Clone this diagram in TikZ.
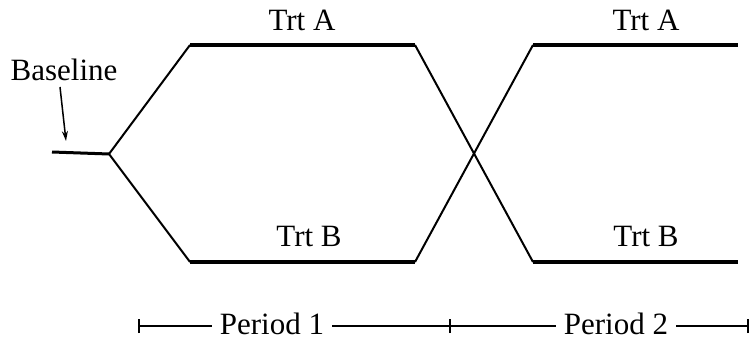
\documentclass[tikz,border=0pt]{standalone}
\usepackage{fontspec}
\setmainfont{Liberation Serif}
\usetikzlibrary{arrows.meta}
\begin{document}
\begin{tikzpicture}[x=1pt,y=-1pt,
  thin line/.style={line width=2pt},
  thick line/.style={line width=4pt},
  lbl/.style={font=\fontsize{31}{36}\selectfont, inner sep=1pt},
  tick/.style={line width=2.5pt}]
\useasboundingbox (0,0) rectangle (749,342);
% key points
\coordinate (b0) at (52,152);
\coordinate (j) at (109,154);
\coordinate (a1) at (190,45);
\coordinate (a2) at (415,45);
\coordinate (b1) at (190,262);
\coordinate (b2) at (415,262);
\coordinate (c1) at (533,45);
\coordinate (c2) at (738,45);
\coordinate (d1) at (533,262);
\coordinate (d2) at (738,262);
% baseline
\draw[line width=3pt] (b0) -- (j);
\draw[thin line] (j) -- (a1);
\draw[thin line] (j) -- (b1);
\draw[thick line] (a1) -- (a2);
\draw[thick line] (b1) -- (b2);
\draw[thin line] (a2) -- (d1);
\draw[thin line] (b2) -- (c1);
\draw[thick line] (c1) -- (c2);
\draw[thick line] (d1) -- (d2);
% labels
\node[lbl] (ta1) at (302,20) {Trt A};
\node[lbl] (tb1) at (309,237) {Trt B};
\node[lbl] (ta2) at (646,20) {Trt A};
\node[lbl] (tb2) at (646,237) {Trt B};
\node[lbl] (base) at (64,70) {Baseline};
\coordinate (arrS) at (60,87);
\coordinate (arrE) at (66,141);
\draw[line width=1.5pt,-{Stealth[length=10pt,width=6pt]}] (arrS) -- (arrE);
% periods
\coordinate (p0) at (139,326);
\coordinate (p1) at (450,326);
\coordinate (p2) at (748,326);
\draw[tick] (p0) -- (p2);
\draw[tick] ([yshift=-7]p0) -- ([yshift=7]p0);
\draw[tick] ([yshift=-7]p1) -- ([yshift=7]p1);
\draw[tick] ([yshift=-7]p2) -- ([yshift=7]p2);
\node[lbl, fill=white, inner xsep=8pt] (per1) at (272,324) {Period 1};
\node[lbl, fill=white, inner xsep=8pt] (per2) at (616,324) {Period 2};
\end{tikzpicture}
\end{document}
